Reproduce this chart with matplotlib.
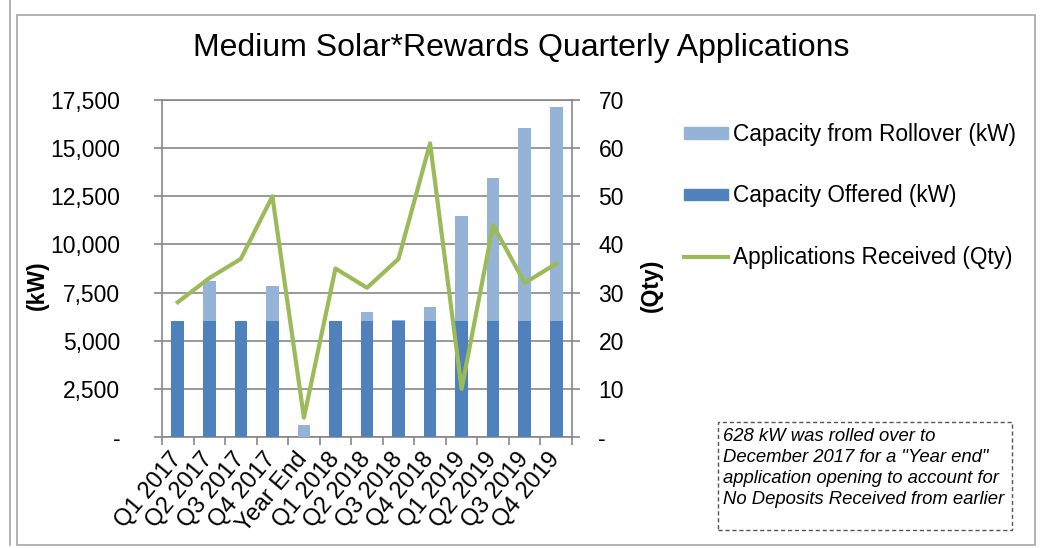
import matplotlib
matplotlib.use("Agg")
import matplotlib.pyplot as plt
import matplotlib.patches as mpatches
from matplotlib.lines import Line2D
from matplotlib.ticker import FuncFormatter
import numpy as np

plt.rcParams["font.family"] = ["Liberation Sans", "DejaVu Sans"]

# data
quarters = ["Q1 2017", "Q2 2017", "Q3 2017", "Q4 2017", "Year End",
            "Q1 2018", "Q2 2018", "Q3 2018", "Q4 2018",
            "Q1 2019", "Q2 2019", "Q3 2019", "Q4 2019"]
offered_kw = [6000, 6000, 6000, 6000, 0, 6000, 6000, 6000, 6000, 6000, 6000, 6000, 6000]
rollover_kw = [0, 2100, 0, 1850, 628, 0, 500, 70, 740, 5500, 7450, 10070, 11140]
applications = [28, 33, 37, 50, 4, 35, 31, 37, 61, 10, 44, 32, 36]

C_OFFERED = "#4F81BD"
C_ROLL = "#95B3D7"
C_LINE = "#9BBB59"
C_GRID = "#888888"

W, H = 1048, 548
fig = plt.figure(figsize=(W / 100, H / 100), dpi=100)

# outer frames
fig.add_artist(mpatches.Rectangle((17 / W, 3 / H), (1035 - 17) / W, (539 - 9) / H,
                                  transform=fig.transFigure, fill=False,
                                  edgecolor="#a6a6a6", linewidth=1.2))
fig.add_artist(Line2D([10 / W, 10 / W], [3 / H, 1], transform=fig.transFigure,
                      color="#a6a6a6", linewidth=1.2))

ax = fig.add_axes([162 / W, (H - 437) / H, 410 / W, 337 / H])
x = np.arange(len(quarters))
bw = 0.4
ax.bar(x, offered_kw, width=bw, color=C_OFFERED, zorder=3)
ax.bar(x, rollover_kw, width=bw, bottom=offered_kw, color=C_ROLL, zorder=3)

ax.set_xlim(-0.5, len(quarters) - 0.5)
ax.set_ylim(0, 17500)
ax.set_yticks(np.arange(0, 17501, 2500))
ax.yaxis.set_major_formatter(FuncFormatter(lambda v, p: "-" if v == 0 else f"{v:,.0f}"))
ax.grid(axis="y", color=C_GRID, linewidth=1.2, zorder=0)
ax.set_axisbelow(True)
for s in ax.spines.values():
    s.set_color(C_GRID)
    s.set_linewidth(1.2)

ax.set_xticks(np.arange(-0.5, len(quarters), 1.0), minor=False)
ax.set_xticklabels([])
ax.set_xticks(x, minor=True)
ax.set_xticklabels(quarters, minor=True, rotation=50, ha="right", va="center",
                   rotation_mode="anchor", fontsize=17)
ax.tick_params(axis="x", which="minor", length=0, pad=13)
ax.tick_params(axis="x", which="major", length=6, color=C_GRID, width=1.2)
ax.tick_params(axis="y", length=6, color=C_GRID, width=1.2, labelsize=16.5, pad=24)
ax.set_ylabel("(kW)", fontsize=16.5, fontweight="bold", labelpad=4)
ax.yaxis.set_label_coords(-0.275, 0.45)

ax2 = ax.twinx()
ax2.plot(x, applications, color=C_LINE, linewidth=3.0, zorder=4)
ax2.set_ylim(0, 70)
ax2.set_yticks(np.arange(0, 71, 10))
ax2.yaxis.set_major_formatter(FuncFormatter(lambda v, p: "-" if v == 0 else f"{v:.0f}"))
ax2.tick_params(axis="y", length=6, color=C_GRID, width=1.2, labelsize=16.5, pad=13)
for s in ax2.spines.values():
    s.set_visible(False)
ax2.set_ylabel("(Qty)", fontsize=16.5, fontweight="bold")
ax2.yaxis.set_label_coords(1.165, 0.45)

fig.text(521 / W, 1 - 48 / H, "Medium Solar*Rewards Quarterly Applications",
         ha="center", va="center", fontsize=23)

handles = [mpatches.Patch(color=C_ROLL, label="Capacity from Rollover (kW)"),
           mpatches.Patch(color=C_OFFERED, label="Capacity Offered (kW)"),
           Line2D([0], [0], color=C_LINE, linewidth=3.0, label="Applications Received (Qty)")]
fig.legend(handles=handles, loc="upper left", bbox_to_anchor=(684 / W, 1 - 123 / H),
           frameon=False, fontsize=16.3, handlelength=1.95, handleheight=0.4,
           handletextpad=0.2, labelspacing=1.7, borderaxespad=0, borderpad=0)

fig.add_artist(mpatches.Rectangle((718 / W, (H - 530) / H), 294 / W, 108 / H,
                                  transform=fig.transFigure, fill=False,
                                  edgecolor="#555555", linewidth=1, linestyle=(0, (3, 2))))
fig.text(723 / W, 1 - 428 / H,
         "628 kW was rolled over to\nDecember 2017 for a \"Year end\"\n"
         "application opening to account for\nNo Deposits Received from earlier",
         ha="left", va="top", fontsize=13.3, style="italic", linespacing=1.32)

fig.savefig("out.png", dpi=100)
